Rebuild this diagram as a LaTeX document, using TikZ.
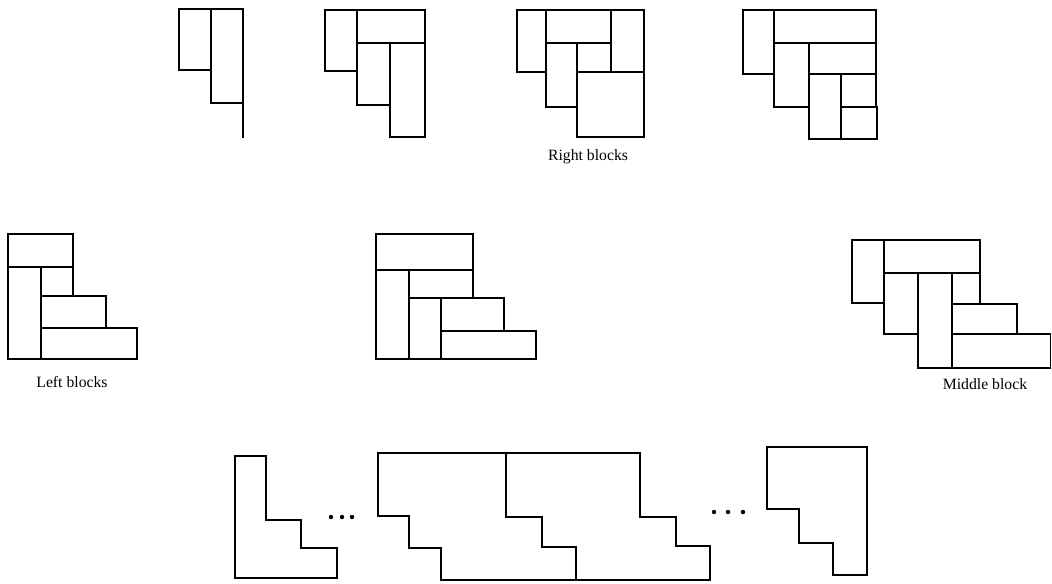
\documentclass[tikz,border=0pt]{standalone}
\usepackage{fontspec}
\setmainfont{Liberation Serif}
\begin{document}
\begin{tikzpicture}[x=0.75pt,y=-0.75pt,
  blk/.style={line width=1.25pt, line join=miter},
  lbl/.style={anchor=base, font=\fontsize{11.8}{14}\selectfont, inner sep=0pt},
  dot/.style={fill=black, circle, inner sep=0pt, minimum size=3.3pt}]
\useasboundingbox (0,0) rectangle (1052,583);
% ---------- Right blocks ----------
% figure 1
\draw[blk] (179,9) rectangle (211,70);
\draw[blk] (211,9) rectangle (243,103);
\draw[blk] (243,103) -- (243,138);
% figure 2
\draw[blk] (325,10) rectangle (357,71);
\draw[blk] (357,10) rectangle (425,43);
\draw[blk] (357,43) rectangle (390,105);
\draw[blk] (390,43) rectangle (425,137);
% figure 3
\draw[blk] (517,10) rectangle (546,72);
\draw[blk] (546,10) rectangle (611,43);
\draw[blk] (611,10) rectangle (644,72);
\draw[blk] (546,43) rectangle (577,107);
\draw[blk] (577,43) rectangle (611,72);
\draw[blk] (577,72) rectangle (644,137);
% figure 4
\draw[blk] (743,10) rectangle (774,74);
\draw[blk] (774,10) rectangle (876,43);
\draw[blk] (774,43) rectangle (809,107);
\draw[blk] (809,43) rectangle (876,74);
\draw[blk] (809,74) rectangle (841,139);
\draw[blk] (841,74) rectangle (876,107);
\draw[blk] (841,107) rectangle (877,139);
\node[lbl] (rb) at (588,160) {Right blocks};
% ---------- Left blocks ----------
\draw[blk] (8,234) rectangle (73,267);
\draw[blk] (8,267) rectangle (41,359);
\draw[blk] (41,267) rectangle (73,296);
\draw[blk] (41,296) rectangle (106,328);
\draw[blk] (41,328) rectangle (137,359);
\draw[blk] (376,234) rectangle (473,270);
\draw[blk] (376,270) rectangle (409,359);
\draw[blk] (409,270) rectangle (473,298);
\draw[blk] (409,298) rectangle (441,359);
\draw[blk] (441,298) rectangle (504,331);
\draw[blk] (441,331) rectangle (536,359);
\node[lbl] (lb) at (72,387) {Left blocks};
% ---------- Middle block ----------
\draw[blk] (852,240) rectangle (884,303);
\draw[blk] (884,240) rectangle (980,273);
\draw[blk] (884,273) rectangle (918,334);
\draw[blk] (918,273) rectangle (952,368);
\draw[blk] (952,273) rectangle (980,304);
\draw[blk] (952,304) rectangle (1017,334);
\draw[blk] (952,334) rectangle (1050.5,368);
\node[lbl] (mb) at (985,389) {Middle block};
% ---------- Bottom row ----------
\draw[blk] (235,456) -- (266,456) -- (266,520) -- (301,520) -- (301,548)
  -- (337,548) -- (337,578) -- (235,578) -- cycle;
\node[dot] (d1) at (331,517) {};
\node[dot] (d2) at (342,517) {};
\node[dot] (d3) at (352,517) {};
\draw[blk] (378,453) -- (640,453) -- (640,517) -- (676,517) -- (676,546)
  -- (710,546) -- (710,580) -- (441,580) -- (441,548) -- (409,548)
  -- (409,516) -- (378,516) -- cycle;
\draw[blk] (506,453) -- (506,517) -- (542,517) -- (542,547) -- (576,547) -- (576,580);
\node[dot] (d4) at (714,512) {};
\node[dot] (d5) at (728,512) {};
\node[dot] (d6) at (743,512) {};
\draw[blk] (767,447) -- (867,447) -- (867,575) -- (833,575) -- (833,543)
  -- (799,543) -- (799,509) -- (767,509) -- cycle;
\end{tikzpicture}
\end{document}
